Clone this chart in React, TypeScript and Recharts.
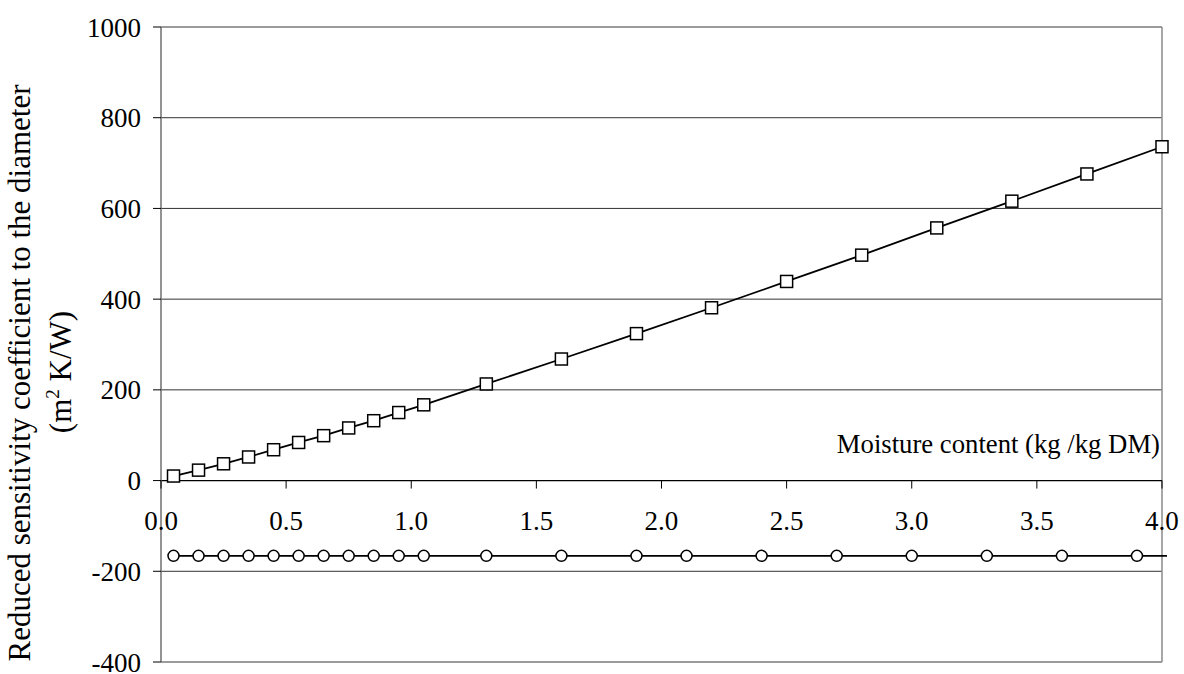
import React from "react";
import { LineChart, Line, XAxis, YAxis, ReferenceLine, ReferenceDot } from "recharts";

const squareX = [0.05, 0.15, 0.25, 0.35, 0.45, 0.55, 0.65, 0.75, 0.85, 0.95, 1.05, 1.3, 1.6, 1.9, 2.2, 2.5, 2.8, 3.1, 3.4, 3.7, 4.0];
const squareY = [10, 23, 37, 52, 68, 84, 99, 116, 132, 150, 167, 213, 268, 324, 381, 439, 497, 557, 616, 676, 736];

// last x is where the flat line runs out past the box (no marker there)
const circleX = [0.05, 0.15, 0.25, 0.35, 0.45, 0.55, 0.65, 0.75, 0.85, 0.95, 1.05, 1.3, 1.6, 1.9, 2.1, 2.4, 2.7, 3.0, 3.3, 3.6, 3.9, 4.02];
const circleY = [-166, -166, -166, -166, -166, -166, -166, -166, -166, -166, -166, -166, -166, -166, -166, -166, -166, -166, -166, -166, -166, -166];

const xTicks = [0, 0.5, 1, 1.5, 2, 2.5, 3, 3.5, 4];
const xTickLabels = ["0.0", "0.5", "1.0", "1.5", "2.0", "2.5", "3.0", "3.5", "4.0"];
const yTicks = [-400, -200, 0, 200, 400, 600, 800, 1000];
const gridRows = [1000, 800, 600, 400, 200, -200, -400];

const FONT = "'Liberation Serif', 'Times New Roman', serif";

const squares = squareX.map((x, i) => ({ x, y: squareY[i] }));
const circles = circleX.map((x, i) => ({ x, y: circleY[i] }));

function SquareDot(props: any) {
	const { cx, cy, index } = props;
	if (cx == null || cy == null) return <g key={`s${index}`} />;
	return <rect key={`s${index}`} x={cx - 6} y={cy - 6} width={12} height={12} fill="#fff" stroke="#000" strokeWidth={1.5} />;
}

function CircleDot(props: any) {
	const { cx, cy, index } = props;
	if (cx == null || cy == null || index === circles.length - 1) return <g key={`c${index}`} />;
	return <circle key={`c${index}`} cx={cx} cy={cy} r={5.5} fill="#fff" stroke="#000" strokeWidth={1.5} />;
}

function Titles() {
	return (
		<g fontFamily={FONT} fill="#000">
			<text x={30} y={373} transform="rotate(-90 30 373)" textAnchor="middle" fontSize={31}>
				Reduced sensitivity coefficient to the diameter
			</text>
			<text x={71} y={372} transform="rotate(-90 71 372)" textAnchor="middle" fontSize={31}>
				(m<tspan dy={-12} fontSize={19}>2</tspan>
				<tspan dy={12}> K/W)</tspan>
			</text>
			<text x={1160} y={453} textAnchor="end" fontSize={26.7}>
				Moisture content (kg /kg DM)
			</text>
		</g>
	);
}

export default function App() {
	return (
		<div style={{ position: "absolute", left: 0, top: 0, background: "#fff" }}>
			<LineChart width={1184} height={674} margin={{ top: 27, right: 16, bottom: 12, left: 61 }}>
				<XAxis type="number" dataKey="x" domain={[0, 4.024]} hide />
				<YAxis
					type="number"
					domain={[-400, 1000]}
					ticks={yTicks}
					interval={0}
					width={100}
					tickSize={8}
					tickMargin={12}
					stroke="#6f6f6f"
					strokeWidth={1.5}
					tickLine={{ stroke: "#000", strokeWidth: 1 }}
					tick={{ fill: "#000", fontSize: 27, fontFamily: FONT }}
					label={{ content: () => <Titles /> }}
				/>
				{gridRows.map((v) => (
					<ReferenceLine
						key={`g${v}`}
						segment={[{ x: 0, y: v }, { x: 4, y: v }]}
						stroke={v === 1000 || v === -400 ? "#7a7a7a" : "#333"}
						strokeWidth={v === 1000 || v === -400 ? 1.5 : 1}
					/>
				))}
				<ReferenceLine segment={[{ x: 4, y: -400 }, { x: 4, y: 1000 }]} stroke="#8a8a8a" strokeWidth={1.5} />
				<ReferenceLine segment={[{ x: 0, y: 0 }, { x: 4, y: 0 }]} stroke="#000" strokeWidth={1.2} />
				{xTicks.map((t, i) => (
					<ReferenceDot
						key={`t${t}`}
						x={t}
						y={0}
						r={0}
						shape={(p: any) => (
							<g>
								<line x1={p.cx} y1={p.cy} x2={p.cx} y2={p.cy + 8} stroke="#000" strokeWidth={1} />
								<text x={p.cx} y={p.cy + 49} textAnchor="middle" fontFamily={FONT} fontSize={27} fill="#000">
									{xTickLabels[i]}
								</text>
							</g>
						)}
					/>
				))}
				<Line
					data={squares}
					dataKey="y"
					type="linear"
					stroke="#000"
					strokeWidth={1.8}
					dot={SquareDot}
					activeDot={false}
					isAnimationActive={false}
				/>
				<Line
					data={circles}
					dataKey="y"
					type="linear"
					stroke="#000"
					strokeWidth={1.8}
					dot={CircleDot}
					activeDot={false}
					isAnimationActive={false}
				/>
			</LineChart>
		</div>
	);
}
